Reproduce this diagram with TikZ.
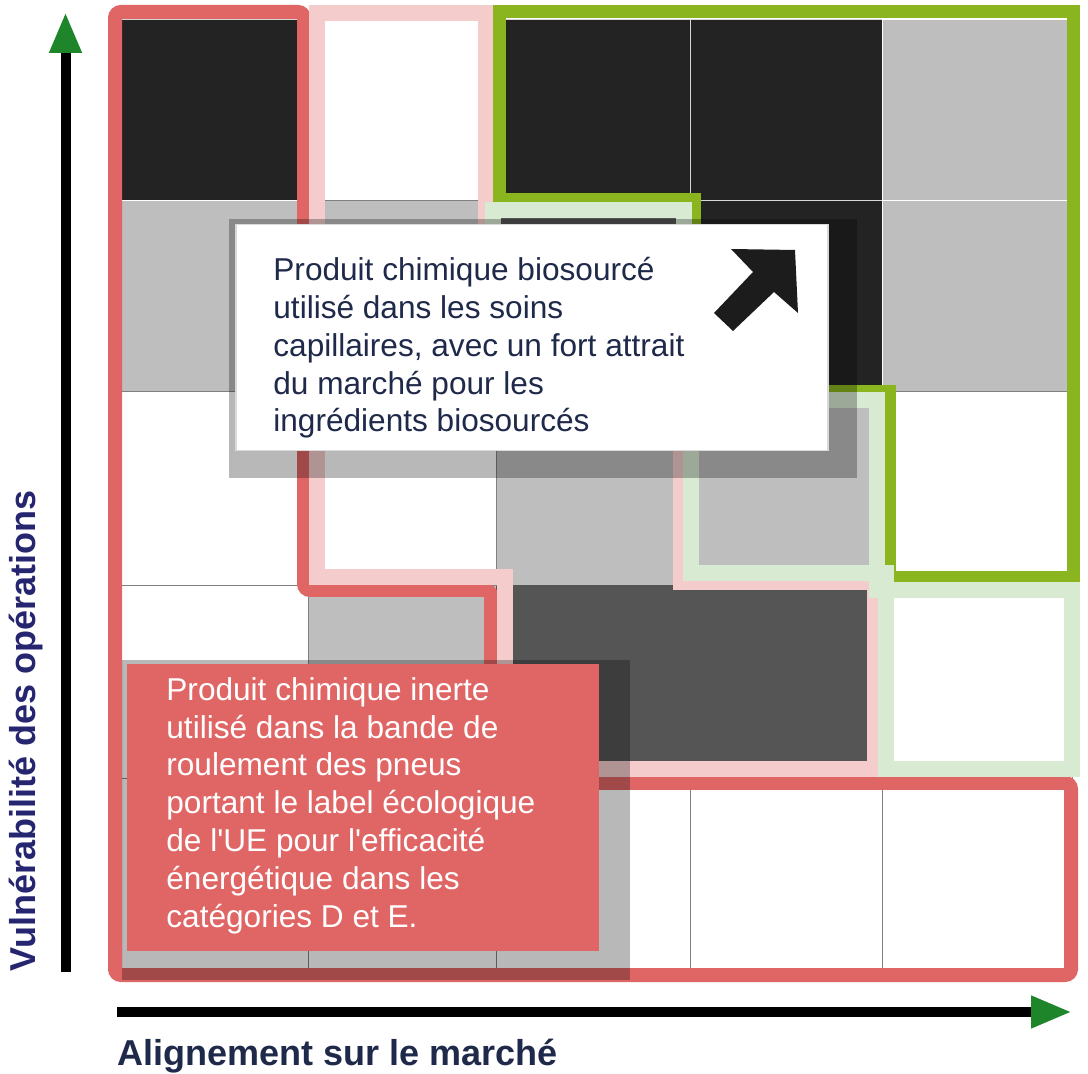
\documentclass[tikz,border=0pt]{standalone}
\usepackage{fontspec}
\newfontfamily\sansfont{Liberation Sans}
\usetikzlibrary{positioning,arrows.meta}
\definecolor{zonered}{RGB}{224,102,102}
\definecolor{zonepink}{RGB}{244,204,204}
\definecolor{zonelime}{RGB}{138,181,30}
\definecolor{zonemint}{RGB}{217,234,211}
\definecolor{celldark}{RGB}{35,35,35}
\definecolor{cellgray}{RGB}{190,190,190}
\definecolor{cellmid}{RGB}{85,85,85}
\definecolor{gridlight}{RGB}{215,215,215}
\definecolor{gridgray}{RGB}{128,128,128}
\definecolor{axisgreen}{RGB}{31,133,43}
\definecolor{navytext}{RGB}{31,41,74}
\definecolor{navylabel}{RGB}{38,38,112}
\definecolor{arrowink}{RGB}{28,28,28}
\begin{document}
\begin{tikzpicture}[x=0.5pt,y=-0.5pt,
  cdark/.style={fill=celldark,draw=gridlight,line width=0.5pt},
  cgray/.style={fill=cellgray,draw=white,line width=0.5pt},
  cmid/.style={fill=cellmid,draw=cellmid,line width=0.5pt},
  cwhite/.style={fill=white,draw=gridgray,line width=0.5pt},
  zoneline/.style={line width=#1,line join=miter},
  shadowbox/.style={fill=black,opacity=0.28},
  whitebox/.style={fill=white,draw=gray!30,line width=0.75pt,inner sep=0pt},
  redbox/.style={fill=zonered,inner sep=0pt},
  calltext/.style={align=left,inner sep=0pt,font=\sansfont\fontsize{15.8}{18.9}\selectfont},
  axislabel/.style={inner sep=0pt,font=\sansfont\bfseries\fontsize{18}{21.6}\selectfont},
  axisline/.style={line width=5pt,-{Triangle[length=20.5pt,width=15pt,color=axisgreen]}}]
\useasboundingbox (0,0) rectangle (1088,1074);
\foreach \rw/\cl/\k in {0/0/cdark,0/2/cdark,0/3/cdark,0/4/cgray,
                        1/0/cgray,1/1/cgray,1/2/cmid,1/3/cdark,1/4/cgray,
                        2/2/cgray,2/3/cgray,3/1/cgray,3/2/cmid,3/3/cmid,
                        0/1/cwhite,2/0/cwhite,2/1/cwhite,2/4/cwhite,3/0/cwhite,3/4/cwhite,
                        4/0/cwhite,4/1/cwhite,4/2/cwhite,4/3/cwhite,4/4/cwhite}{
  \pgfmathsetmacro\xa{{120,308,496,690,882,1072}[\cl]}
  \pgfmathsetmacro\xb{{120,308,496,690,882,1072}[\cl+1]}
  \pgfmathsetmacro\ya{{20,201,392,586,779,968}[\rw]}
  \pgfmathsetmacro\yb{{20,201,392,586,779,968}[\rw+1]}
  \draw[\k] (\xa,\ya) rectangle (\xb,\yb);
}
\draw[zoneline=7pt,zonered,rounded corners=3pt] (115,12) -- (304,12) -- (304,590) -- (491,590) -- (491,783) -- (1071,783) -- (1071,975) -- (115,975) -- cycle;
\draw[zoneline=8pt,zonepink] (317,13) -- (486,13) -- (486,393) -- (681,393) -- (681,582) -- (875,582) -- (875,769) -- (505,769) -- (505,577) -- (317,577) -- cycle;
\draw[zoneline=6.5pt,zonelime] (499,200) -- (499,12) -- (1073,12) -- (1073,578) -- (889,578) -- (889,392) -- (694,392) -- (694,200) -- cycle;
\draw[zoneline=8pt,zonemint] (493,393) -- (493,210) -- (684,210) -- (684,400) -- (877,400) -- (877,590) -- (1072,590) -- (1072,769) -- (886,769) -- (886,573) -- (691,573) -- (691,393) -- cycle;
\fill[shadowbox] (229,219) rectangle (857,478);
\node[whitebox,minimum width=296pt,minimum height=113pt,anchor=north west] (bio) at (235,224) {};
\node[calltext,text=navytext,below right=16.5pt and 19pt of bio.north west] (bioTxt) {Produit chimique biosourcé\\utilisé dans les soins\\capillaires, avec un fort attrait\\du marché pour les\\ingrédients biosourcés};
\fill[arrowink] (795,250) -- (731,249) -- (753,272) -- (714,313) -- (733,331) -- (774,292) -- (798,313) -- cycle;
\fill[shadowbox] (122,660) rectangle (630,980);
\node[redbox,minimum width=236pt,minimum height=143.5pt,anchor=north west] (tire) at (127,664) {};
\node[calltext,text=white,below right=6.5pt and 19.5pt of tire.north west] (tireTxt) {Produit chimique inerte\\utilisé dans la bande de\\roulement des pneus\\portant le label écologique\\de l'UE pour l'efficacité\\énergétique dans les\\catégories D et E.};
\coordinate (yFoot) at (65.5,972);
\coordinate (yTip) at (65.5,12);
\coordinate (xFoot) at (117,1012);
\coordinate (xTip) at (1072,1012);
\draw[axisline] (yFoot) -- (yTip);
\draw[axisline] (xFoot) -- (xTip);
\node[axislabel,rotate=90,anchor=base,text=navylabel] (vulnLabel) at (35,731) {Vulnérabilité des opérations};
\node[axislabel,anchor=base west,text=navytext] (alignLabel) at (117,1065) {Alignement sur le marché};
\end{tikzpicture}
\end{document}
